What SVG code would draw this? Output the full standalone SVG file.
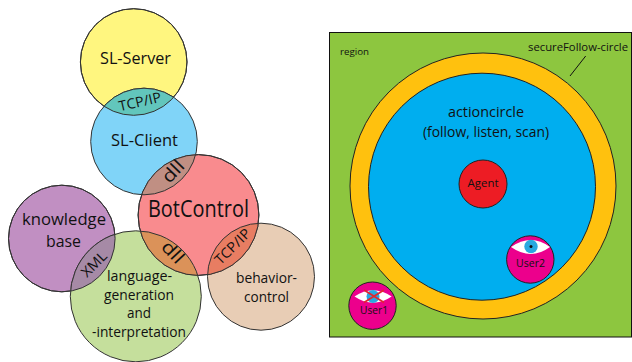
<svg xmlns="http://www.w3.org/2000/svg" width="632" height="362" viewBox="0 0 632 362">
<style>
text{font-family:"Open Sans","Noto Sans","Liberation Sans",sans-serif;fill:#111;text-anchor:middle}
.c{stroke:#333;stroke-width:1}
.o{stroke:#222;stroke-width:1}
</style>
<defs>
<clipPath id="cServer"><circle cx="133.7" cy="62" r="53.3"/></clipPath>
<clipPath id="cBot"><circle cx="198.5" cy="215" r="60.4"/></clipPath>
<clipPath id="cKnow"><circle cx="61.8" cy="238.5" r="53.3"/></clipPath>
</defs>
<rect width="632" height="362" fill="#fff"/>
<g id="sl-server"><circle class="c" cx="133.7" cy="62" r="53.3" fill="#FFF67F"/><text x="135.5" y="63.500" font-size="17" textLength="71" lengthAdjust="spacingAndGlyphs">SL-Server</text></g>
<g id="sl-client"><circle class="c" cx="144" cy="141.5" r="53.3" fill="#80D4F8"/><text x="144.500" y="145.500" font-size="17" textLength="67" lengthAdjust="spacingAndGlyphs">SL-Client</text></g>
<g id="knowledge-base"><circle class="c" cx="61.8" cy="238.5" r="53.3" fill="#C18FC2"/><text x="64" y="225" font-size="17" textLength="84" lengthAdjust="spacingAndGlyphs">knowledge</text><text x="63.500" y="247" font-size="17" textLength="35" lengthAdjust="spacingAndGlyphs">base</text></g>
<g id="language"><circle class="c" cx="135.800" cy="296.300" r="65.5" fill="#C5DF9C"/><text x="139.500" y="281" font-size="14.500" textLength="65" lengthAdjust="spacingAndGlyphs">language-</text><text x="139" y="299.500" font-size="14.500" textLength="70" lengthAdjust="spacingAndGlyphs">generation</text><text x="139" y="318" font-size="14.500" textLength="24" lengthAdjust="spacingAndGlyphs">and</text><text x="139" y="336.500" font-size="14.500" textLength="94" lengthAdjust="spacingAndGlyphs">-interpretation</text></g>
<g id="behavior-control"><circle class="c" cx="261" cy="276.700" r="53.500" fill="#E8CDB5"/><text x="266.500" y="283" font-size="14.500" textLength="61" lengthAdjust="spacingAndGlyphs">behavior-</text><text x="266.500" y="302" font-size="14.500" textLength="45" lengthAdjust="spacingAndGlyphs">control</text></g>
<g id="botcontrol"><circle class="c" cx="198.500" cy="215" r="60.400" fill="#F98B8E"/><text x="198.500" y="217" font-size="23.500" textLength="101" lengthAdjust="spacingAndGlyphs">BotControl</text></g>
<g id="links">
<circle class="c" cx="144" cy="141.500" r="53.300" fill="#62C6BC" clip-path="url(#cServer)"/>
<circle class="c" cx="144" cy="141.500" r="53.300" fill="#C08F83" clip-path="url(#cBot)"/>
<circle class="c" cx="135.800" cy="296.300" r="65.500" fill="#DB9259" clip-path="url(#cBot)"/>
<circle class="c" cx="261" cy="276.700" r="53.500" fill="#E87D62" clip-path="url(#cBot)"/>
<circle class="c" cx="135.800" cy="296.300" r="65.500" fill="#A68AA6" clip-path="url(#cKnow)"/>
<circle cx="133.700" cy="62" r="53.300" fill="none" class="c"/>
<circle cx="198.500" cy="215" r="60.400" fill="none" class="c"/>
<circle cx="61.800" cy="238.500" r="53.300" fill="none" class="c"/>
<text font-size="14" textLength="43" lengthAdjust="spacingAndGlyphs" transform="translate(141 106.500) rotate(-13)">TCP/IP</text>
<text font-size="18" textLength="24" lengthAdjust="spacingAndGlyphs" transform="translate(177.500 175.500) rotate(-46)">dll</text>
<text font-size="18" textLength="24" lengthAdjust="spacingAndGlyphs" transform="translate(168.500 256.500) rotate(47)">dll</text>
<text font-size="14" textLength="44" lengthAdjust="spacingAndGlyphs" transform="translate(236 250) rotate(-45)">TCP/IP</text>
<text font-size="14" textLength="30" lengthAdjust="spacingAndGlyphs" transform="translate(97.500 267.500) rotate(-45)">XML</text>
</g>
<g id="region"><rect x="329.500" y="32.500" width="302" height="304.500" fill="#8DC63F" stroke="#111" stroke-width="1"/><text x="354.500" y="55" font-size="9" textLength="29" lengthAdjust="spacingAndGlyphs">region</text></g>
<g id="secureFollow-circle"><circle class="o" cx="483" cy="186" r="133" fill="#FFC10E"/><text x="578" y="51" font-size="11" textLength="100" lengthAdjust="spacingAndGlyphs">secureFollow-circle</text><path d="M585.700 56L570 76" fill="none" stroke="#111" stroke-width="1"/></g>
<g id="actioncircle"><circle class="o" cx="482" cy="186.700" r="113.500" fill="#00AEEF"/><text x="486" y="117" font-size="15" textLength="76" lengthAdjust="spacingAndGlyphs">actioncircle</text><text x="486" y="137" font-size="15" textLength="126" lengthAdjust="spacingAndGlyphs">(follow, listen, scan)</text></g>
<g id="agent"><circle class="o" cx="483" cy="184" r="24" fill="#ED1C24"/><text x="483" y="186.500" font-size="10.500" textLength="31" lengthAdjust="spacingAndGlyphs">Agent</text></g>
<g id="user2"><circle class="o" cx="530.300" cy="259.500" r="23.700" fill="#EC008C"/><path d="M511 247Q531 233 550 247Q531 261 511 247Z" fill="#fff"/><circle cx="531" cy="246.500" r="6.700" fill="#29A9E0"/><circle cx="531" cy="246.500" r="1.500" fill="#111"/><text x="530.500" y="266.500" font-size="11.500" textLength="29" lengthAdjust="spacingAndGlyphs">User2</text></g>
<g id="user1"><circle class="o" cx="372.500" cy="305.700" r="23.700" fill="#EC008C"/><path d="M354.500 296.500Q373 284 391.700 296.500Q373 309 354.500 296.500Z" fill="#fff"/><circle cx="373" cy="296.500" r="6.500" fill="#29A9E0"/><path d="M364 290L384 302.500M364 302.500L384 290" stroke="#E0282E" stroke-width="1.800" fill="none"/><text x="374" y="314" font-size="11.500" textLength="28" lengthAdjust="spacingAndGlyphs">User1</text></g>
</svg>
